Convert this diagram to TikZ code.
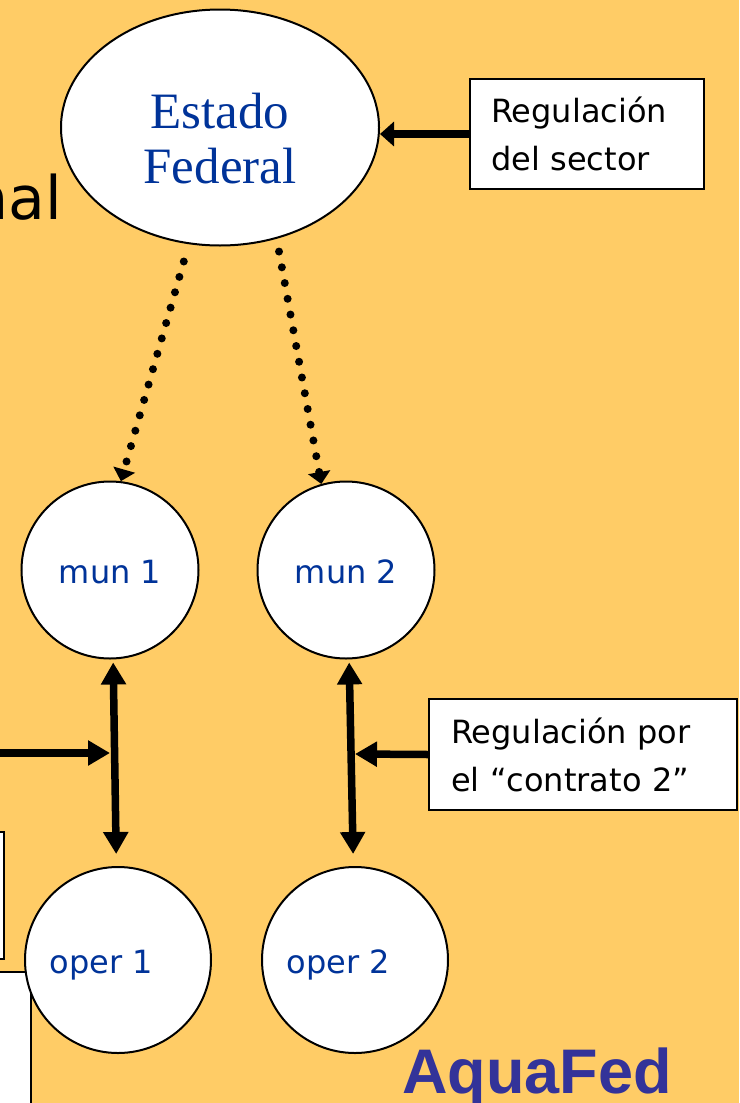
\documentclass[tikz,border=0pt]{standalone}
\usepackage{fontspec}
\usetikzlibrary{arrows.meta,shapes.geometric}
\newfontfamily\verdf{DejaVu Sans}
\newfontfamily\timesf{Liberation Serif}
\newfontfamily\arialf{Liberation Sans}
\definecolor{fondo}{HTML}{FFCC66}
\definecolor{azul}{HTML}{003399}
\definecolor{aquaazul}{HTML}{333399}

\begin{document}
\begin{tikzpicture}[x=1pt,y=-1pt,
    rond/.style={circle,draw,fill=white,line width=2pt,text=azul,
      font=\verdf\fontsize{32}{38}\selectfont,text height=27pt,text depth=0pt},
    caja/.style={rectangle,draw,fill=white,line width=2pt,anchor=north west,
      align=left,inner xsep=21pt,font=\verdf\fontsize{32}{48}\selectfont},
    flecha/.style={line width=7.5pt,-{Triangle[length=22pt,width=24pt]}},
    doble/.style={line width=7.5pt,{Triangle[length=22pt,width=24pt]}-{Triangle[length=22pt,width=24pt]}},
    puntos/.style={line width=8pt,line cap=round,dash pattern=on 0pt off 16pt,
      -{Triangle[length=12pt,width=22pt]}}]
      \useasboundingbox (0,0) rectangle (739,1103);
      \clip (0,0) rectangle (739,1103);
      \fill[fondo] (0,0) rectangle (739,1103);

      % lo que queda cortado a la izquierda
      \node[anchor=base east,inner sep=0pt,font=\verdf\fontsize{60}{70}\selectfont] at (62,219) (nal) {nal};
      \node[draw,fill=white,line width=2pt,anchor=north east,minimum width=40pt,minimum height=127pt] at (5,831) (izq) {};
      \node[draw,fill=white,line width=1.6pt,anchor=north east,minimum width=60pt,minimum height=160pt] at (32,971) (nota) {};

      \node[ellipse,draw,fill=white,line width=2pt,minimum width=318pt,minimum height=236pt] at (220,127.5) (fed) {};
      \node[text=azul,align=center,font=\timesf\fontsize{51}{55}\selectfont] at ([yshift=-10.6pt]fed.center) (fedtxt) {Estado\\Federal};

      \node[rond,minimum size=177pt] at (110,570) (mun1) {mun 1};
      \node[rond,minimum size=177pt] at (346,570) (mun2) {mun 2};
      \node[rond,minimum size=186pt,text width=137pt,align=left] at (118,960) (oper1) {oper 1};
      \node[rond,minimum size=186pt,text width=137pt,align=left] at (355,960) (oper2) {oper 2};

      \node[caja,text width=192pt,minimum height=110pt] at (469,78) (reg1) {Regulación\\del sector};
      \node[caja,text width=264pt,inner xsep=22pt,minimum height=111pt] at (428,698) (reg2) {Regulación por\\el “contrato 2”};

      \node[anchor=base west,inner sep=0pt,text=aquaazul,font=\arialf\bfseries\fontsize{63}{70}\selectfont] at (402,1093) (aquafed) {AquaFed};

      \coordinate (izq1) at (-5,753);
      \coordinate (cruce1) at (110,753);
      \coordinate (cruce2) at (355,754);

      \draw[puntos,shorten <=18pt] (fed.255) -- (mun1.83);
      \draw[puntos,shorten <=13pt] (fed.297) -- (mun2.106);
      \draw[flecha,-{Triangle[length=14pt,width=24pt]}] (reg1.west) -- (reg1.west -| fed.east);
      \draw[doble,shorten <=3pt,shorten >=12pt] (mun1.272) -- (oper1.91);
      \draw[doble,shorten <=3pt,shorten >=12pt] (mun2.272) -- (oper2.91);
      \draw[flecha] (izq1) -- (cruce1);
      %\draw[flecha] (izq1) -- (mun1.272 |- izq1);
      \draw[flecha] (reg2.west) -- (cruce2);
\end{tikzpicture}
\end{document}
